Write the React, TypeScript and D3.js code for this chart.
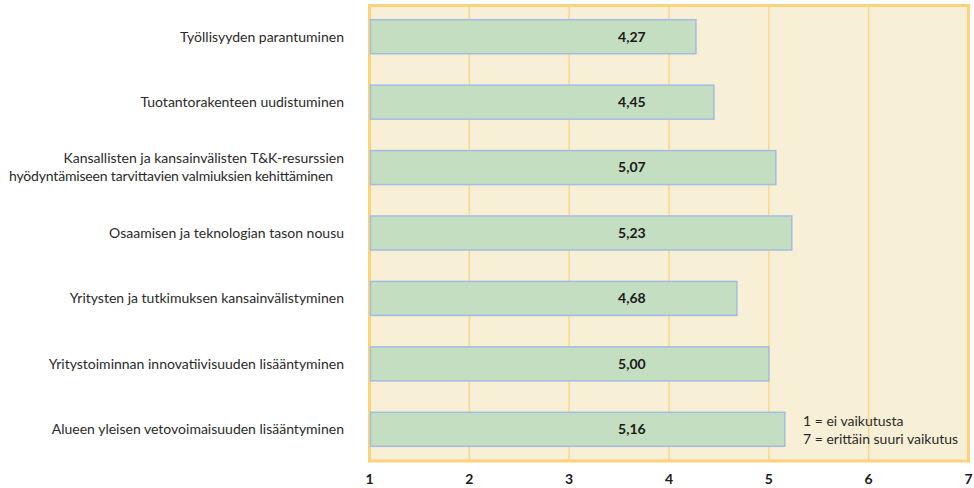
import React from "react";
import * as d3 from "d3";

const categories: string[][] = [
  ["Työllisyyden parantuminen"],
  ["Tuotantorakenteen uudistuminen"],
  ["Kansallisten ja kansainvälisten T&K-resurssien", "hyödyntämiseen tarvittavien valmiuksien kehittäminen"],
  ["Osaamisen ja teknologian tason nousu"],
  ["Yritysten ja tutkimuksen kansainvälistyminen"],
  ["Yritystoiminnan innovatiivisuuden lisääntyminen"],
  ["Alueen yleisen vetovoimaisuuden lisääntyminen"],
];
const values: number[] = [4.27, 4.45, 5.07, 5.23, 4.68, 5.0, 5.16];
const ticks: number[] = [1, 2, 3, 4, 5, 6, 7];
const legendLines: string[] = ["1 = ei vaikutusta", "7 = erittäin suuri vaikutus"];

const W = 974;
const H = 488;
const font = "Lato, 'Open Sans', sans-serif";

export default function App() {
  const left = 369.5;
  const right = 968.5;
  const top = 5.5;
  const bottom = 461;
  const x = d3.scaleLinear().domain([1, 7]).range([left, right]);
  const y = d3
    .scaleBand<number>()
    .domain(d3.range(categories.length))
    .range([4, 462])
    .paddingInner(0.48)
    .paddingOuter(0.24);
  const labelX = x(3.5) - 1;
  const fmt = (v: number) => v.toFixed(2).replace(".", ",");

  return (
    <svg
      width={W}
      height={H}
      style={{ position: "absolute", left: 0, top: 0, display: "block" }}
    >
      <rect x={0} y={0} width={W} height={H} fill="#ffffff" />
      <rect x={left} y={top} width={right - left} height={bottom - top} fill="#F7F0D6" />
      {ticks.slice(1, -1).map((t) => (
        <line
          key={t}
          x1={x(t)}
          x2={x(t)}
          y1={top}
          y2={bottom}
          stroke="#FBD78A"
          strokeWidth={1.5}
        />
      ))}
      <rect
        x={left}
        y={top}
        width={right - left}
        height={bottom - top}
        fill="none"
        stroke="#FDD27C"
        strokeWidth={3}
      />
      {values.map((v, i) => {
        const by = y(i)!;
        const bh = y.bandwidth();
        return (
          <g key={i}>
            <rect
              x={x(1) + 1}
              y={by}
              width={x(v) - x(1) - 1}
              height={bh}
              fill="#C3DEC0"
              stroke="#A5BBE2"
              strokeWidth={1.5}
            />
            <text
              x={labelX}
              y={by + bh / 2}
              dy="0.35em"
              fontFamily={font}
              fontWeight={700}
              fontSize={14}
              fill="#1a1a1a"
            >
              {fmt(v)}
            </text>
          </g>
        );
      })}
      {categories.map((lines, i) => {
        const cy = y(i)! + y.bandwidth() / 2;
        const lh = 18;
        const start = cy - ((lines.length - 1) * lh) / 2;
        return (
          <g key={i}>
            {lines.map((l, j) => (
              <text
                key={j}
                x={j === 1 ? 333 : 344}
                y={start + j * lh}
                dy="0.35em"
                textAnchor="end"
                fontFamily={font}
                fontSize={14}
                fill="#2a2a2a"
                textLength={j === 1 ? 324 : undefined}
                lengthAdjust={j === 1 ? "spacing" : undefined}
              >
                {l}
              </text>
            ))}
          </g>
        );
      })}
      {ticks.map((t) => (
        <text
          key={t}
          x={x(t)}
          y={479}
          dy="0.35em"
          textAnchor="middle"
          fontFamily={font}
          fontWeight={700}
          fontSize={14}
          fill="#1a1a1a"
        >
          {t}
        </text>
      ))}
      {legendLines.map((l, i) => (
        <text
          key={i}
          x={803}
          y={421 + i * 18}
          dy="0.35em"
          fontFamily={font}
          fontSize={14}
          fill="#2a2a2a"
        >
          {l}
        </text>
      ))}
    </svg>
  );
}
